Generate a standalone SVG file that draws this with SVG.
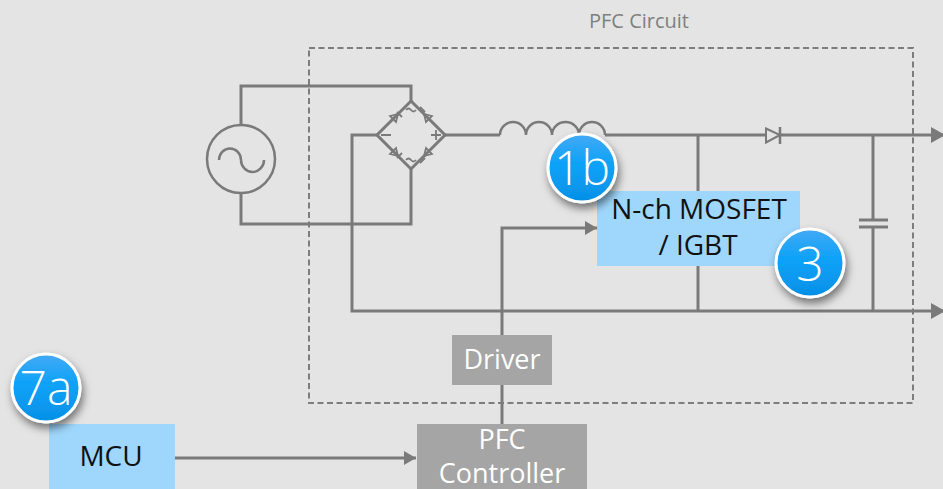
<svg xmlns="http://www.w3.org/2000/svg" width="943" height="489" viewBox="0 0 943 489">
<style>
.w{fill:none;stroke:#7a7a7a;stroke-width:3}
.m{fill:none;stroke:#7a7a7a;stroke-width:2.500}
.t{fill:none;stroke:#7a7a7a;stroke-width:1.800}
.dash{fill:none;stroke:#7d7d7d;stroke-width:2;stroke-dasharray:6 3.500}
text{font-family:"Open Sans","Noto Sans","Liberation Sans",sans-serif;text-anchor:middle}
.blue{fill:#9fd6fb}
.grey{fill:#a5a5a5}
.k{fill:#111;font-size:28px}
.wt{fill:#fff;font-size:27px}
.b{fill:#fff;font-size:48px;font-weight:300}
.badge{fill:url(#bg);stroke:#fff;stroke-width:3;filter:url(#sh)}
</style>
<defs>
<linearGradient id="bg" x1="0" y1="0" x2="0" y2="1"><stop offset="0" stop-color="#45a9f5"/><stop offset=".45" stop-color="#0ba2f8"/><stop offset="1" stop-color="#0590e6"/></linearGradient>
<filter id="sh" x="-30%" y="-30%" width="160%" height="170%"><feDropShadow dx="2" dy="5" stdDeviation="4" flood-color="#000" flood-opacity=".5"/></filter>
<marker id="a" markerUnits="userSpaceOnUse" markerWidth="15" markerHeight="16" refX="14" refY="8" orient="auto"><path d="M0 0L14 8L0 16Z" fill="#7a7a7a"/></marker>
<marker id="s" markerUnits="userSpaceOnUse" markerWidth="13" markerHeight="14" refX="12" refY="7" orient="auto"><path d="M0 0L12 7L0 14Z" fill="#7a7a7a"/></marker>
</defs>
<rect width="943" height="489" fill="#e4e4e4"/>
<text x="639" y="28" font-size="20" style="fill:#7f7f7f">PFC Circuit</text>
<rect class="dash" x="309" y="48" width="604" height="355"/>
<g id="connectors">
<path class="w" d="M241 125V86H411V101"/>
<path class="w" d="M241 193V224H411V169"/>
<path class="w" d="M377 135H352V311H945" marker-end="url(#a)"/>
<path class="w" d="M445 135H500"/>
<path class="w" d="M605 135H945" marker-end="url(#a)"/>
<path class="w" d="M698 135V191M698 266V311"/>
<path class="w" d="M873 135V220M873 227V311"/>
<path class="w" d="M859 220H888M859 227H888"/>
<path class="w" d="M502 424V385M502 335V228H597" marker-end="url(#s)"/>
<path class="w" d="M175 458H416" marker-end="url(#s)"/>
</g>
<g id="source"><circle class="m" cx="241" cy="159" r="34"/><path class="m" d="M219 160A11 11.500 0 0 1 241 160A11.500 12 0 0 0 264 160"/></g>
<g id="bridge">
<path class="w" d="M411 101L445 135L411 169L377 135Z"/>
<path class="t" d="M390 116l8 -2l-2 8zM397 112l5 5M432 116l-8 -2l2 8zM425 112l-5 -5M390 154l8 2l-2 -8zM397 158l5 -5M432 154l-8 2l2 -8zM425 158l-5 5"/>
<path class="t" d="M381 135H391M431 135H441M436 130V140M406 110q2.500 -3 5 0t5 0M406 160q2.500 -3 5 0t5 0"/>
</g>
<g id="inductor"><path class="m" d="M500 135A13 13 0 0 1 526 135A13 13 0 0 1 552 135A13.500 13 0 0 1 579 135A13 13 0 0 1 605 135"/></g>
<g id="diode"><path fill="#e4e4e4" stroke="#7a7a7a" stroke-width="2" d="M766 128.500L780 135L766 142.500Z"/><path class="m" d="M780 127V144"/></g>
<g id="mosfet"><rect class="blue" x="597" y="191" width="203" height="75"/><text class="k" x="699" y="219">N-ch MOSFET</text><text class="k" x="698" y="255">/ IGBT</text></g>
<g id="driver"><rect class="grey" x="452" y="335" width="100" height="50"/><text class="wt" x="502" y="369">Driver</text></g>
<g id="controller"><rect class="grey" x="417" y="424" width="170" height="65"/><text class="wt" x="502" y="449">PFC</text><text class="wt" x="502" y="483">Controller</text></g>
<g id="mcu"><rect class="blue" x="49" y="424" width="126" height="65"/><text class="k" x="111" y="466">MCU</text></g>
<g id="badge-1b"><circle class="badge" cx="582" cy="168" r="34"/><text class="b" x="582" y="185">1b</text></g>
<g id="badge-3"><circle class="badge" cx="810" cy="263" r="34"/><text class="b" x="810" y="281">3</text></g>
<g id="badge-7a"><circle class="badge" cx="46" cy="388" r="34"/><text class="b" x="46" y="405">7a</text></g>
</svg>
